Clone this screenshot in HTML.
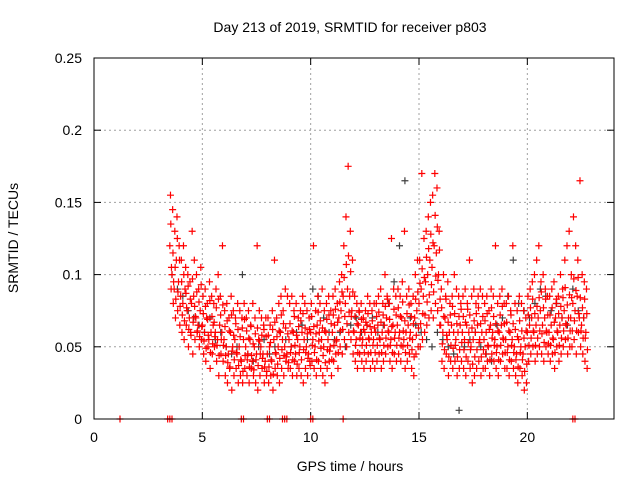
<!DOCTYPE html>
<html><head><meta charset="utf-8"><style>
html,body{margin:0;padding:0;background:#fff;}
svg{display:block;font-family:"Liberation Sans",sans-serif;}
</style></head><body>
<svg id="chart" width="640" height="480" viewBox="0 0 640 480">
<text x="350" y="32" text-anchor="middle" font-size="14">Day 213 of 2019, SRMTID for receiver p803</text>
<text x="18" y="238" text-anchor="middle" font-size="14" transform="rotate(-90 18 238)">SRMTID / TECUs</text>
<text x="350" y="471" text-anchor="middle" font-size="14">GPS time / hours</text>
<g id="grid"></g>
<g id="ticks"></g>
<g id="marks"></g>
<rect x="94" y="58" width="520" height="361" fill="none" stroke="#000" stroke-width="1"/>
</svg>
<script>
const xTicks=[0,5,10,15,20];
const yTicks=[0,0.05,0.1,0.15,0.2,0.25];
const yTickLabels=["0","0.05","0.1","0.15","0.2","0.25"];
const tStart=3.5, tStep=0.1;
const seriesA=[.12,.10,.09,.11,.095,
.085,.08,.09,.075,.07,.08,.085,.07,.065,.075,
.065,.06,.07,.055,.06,.065,.06,.055,.065,.06,
.055,.05,.045,.06,.05,.055,.045,.05,.04,.055,
.05,.045,.055,.04,.05,.045,.055,.05,.045,.04,
.045,.05,.04,.055,.045,.05,.06,.055,.05,.045,
.055,.05,.06,.045,.055,.05,.06,.055,.05,.045,
.06,.055,.05,.065,.06,.055,.05,.06,.055,.05,
.06,.065,.055,.07,.075,.085,.08,.09,.085,.075,
.06,.055,.065,.06,.055,.06,.065,.055,.06,.055,
.06,.065,.055,.06,.065,.07,.06,.055,.065,.06,
.065,.06,.07,.055,.06,.065,.06,.055,.07,.075,
.08,.09,.085,.095,.1,.11,.105,.12,.115,.1,
.065,.06,.07,.055,.06,.065,.06,.055,.06,.065,
.06,.055,.065,.06,.05,.055,.06,.065,.055,.06,
.055,.06,.05,.065,.06,.055,.05,.06,.065,.055,
.055,.05,.06,.055,.05,.045,.055,.05,.045,.05,
.06,.065,.07,.06,.065,.07,.075,.065,.07,.06,
.06,.065,.055,.07,.06,.065,.07,.075,.065,.07,
.07,.08,.075,.085,.07,.065,.07,.06];
const seriesB=[.155,.145,.13,.14,.12,
.11,.12,.105,.1,.095,.13,.11,.1,.09,.105,
.085,.09,.08,.095,.085,.08,.09,.1,.085,.12,
.075,.08,.07,.085,.075,.07,.08,.075,.07,.08,
.07,.075,.065,.08,.07,.12,.075,.07,.065,.07,
.07,.065,.075,.11,.07,.08,.085,.075,.09,.085,
.08,.085,.075,.08,.07,.075,.085,.08,.075,.07,
.08,.12,.075,.085,.08,.09,.075,.08,.085,.075,
.085,.09,.08,.095,.1,.12,.14,.175,.13,.11,
.085,.08,.075,.08,.07,.075,.085,.08,.075,.08,
.08,.085,.09,.08,.1,.085,.08,.125,.09,.085,
.09,.085,.095,.13,.085,.09,.08,.085,.1,.11,
.11,.17,.125,.13,.14,.15,.155,.17,.16,.13,
.09,.1,.085,.095,.08,.085,.1,.09,.085,.08,
.085,.09,.08,.11,.085,.09,.08,.085,.09,.085,
.08,.085,.075,.09,.085,.12,.08,.085,.09,.08,
.08,.085,.075,.12,.08,.075,.085,.08,.075,.07,
.085,.09,.095,.1,.11,.12,.095,.1,.09,.085,
.085,.09,.095,.08,.085,.1,.09,.11,.12,.13,
.1,.14,.12,.11,.165,.1,.095,.09];
const seriesC=[.09,.08,.07,.075,.065,
.06,.055,.065,.05,.06,.045,.055,.06,.05,.055,
.045,.04,.05,.035,.045,.05,.04,.03,.045,.04,
.03,.025,.035,.02,.03,.035,.025,.03,.025,.035,
.03,.025,.035,.03,.025,.02,.03,.035,.025,.03,
.025,.03,.02,.035,.03,.025,.035,.03,.04,.035,
.035,.03,.04,.03,.035,.03,.025,.035,.03,.04,
.04,.035,.03,.04,.035,.03,.025,.035,.04,.03,
.04,.045,.035,.05,.045,.055,.05,.06,.055,.045,
.04,.035,.045,.04,.035,.04,.045,.035,.04,.035,
.04,.045,.035,.04,.045,.05,.04,.035,.045,.04,
.045,.04,.05,.035,.04,.045,.035,.03,.045,.05,
.05,.055,.06,.065,.07,.075,.07,.08,.075,.065,
.04,.035,.045,.03,.04,.035,.04,.03,.035,.04,
.035,.03,.04,.035,.025,.03,.035,.04,.03,.035,
.035,.04,.03,.045,.04,.035,.03,.04,.045,.035,
.035,.03,.04,.035,.03,.025,.035,.03,.02,.025,
.04,.045,.05,.04,.045,.05,.045,.04,.05,.045,
.04,.045,.035,.05,.04,.045,.05,.055,.045,.05,
.05,.055,.045,.06,.05,.045,.04,.035];
const seriesD=[.135,.115,.105,.125,.11,
.095,.1,.087,.092,.083,.097,.078,.088,.081,.093,
.073,.078,.069,.082,.071,.067,.077,.083,.072,.079,
.064,.068,.061,.072,.058,.066,.062,.057,.063,.069,
.061,.056,.064,.052,.059,.063,.054,.058,.062,.057,
.058,.053,.062,.067,.057,.061,.072,.066,.063,.059,
.066,.061,.071,.058,.064,.068,.073,.063,.059,.062,
.071,.064,.059,.074,.068,.063,.061,.069,.072,.066,
.072,.076,.067,.081,.088,.098,.107,.113,.102,.088,
.071,.066,.074,.069,.062,.067,.073,.064,.068,.063,
.071,.074,.067,.072,.078,.083,.069,.064,.076,.072,
.077,.071,.081,.068,.073,.079,.071,.066,.083,.088,
.094,.104,.098,.112,.118,.128,.122,.141,.133,.117,
.077,.071,.083,.067,.072,.078,.073,.066,.071,.076,
.071,.067,.076,.072,.063,.068,.073,.077,.066,.071,
.068,.073,.062,.077,.071,.066,.061,.072,.078,.066,
.067,.061,.072,.066,.062,.057,.068,.061,.056,.061,
.072,.077,.083,.073,.078,.084,.088,.077,.083,.072,
.072,.077,.067,.083,.073,.078,.084,.091,.079,.086,
.084,.097,.089,.098,.084,.077,.083,.073];
const seriesE=[.105,.095,.083,.088,.078,
.072,.068,.077,.062,.058,.067,.071,.061,.057,.064,
.054,.049,.058,.046,.052,.057,.051,.044,.055,.051,
.044,.039,.036,.047,.041,.046,.037,.041,.033,.044,
.041,.036,.044,.034,.041,.037,.045,.042,.036,.033,
.036,.041,.031,.046,.038,.042,.048,.044,.043,.039,
.046,.041,.051,.038,.046,.041,.048,.046,.042,.037,
.051,.046,.041,.054,.049,.044,.039,.048,.047,.041,
.051,.054,.046,.061,.062,.071,.066,.074,.071,.061,
.051,.046,.056,.051,.046,.051,.056,.046,.051,.046,
.051,.056,.046,.051,.056,.061,.051,.046,.056,.051,
.056,.051,.061,.046,.051,.056,.048,.043,.058,.063,
.066,.073,.072,.081,.086,.093,.088,.099,.096,.083,
.052,.048,.058,.043,.051,.049,.051,.043,.048,.053,
.048,.043,.053,.048,.038,.043,.048,.053,.043,.048,
.045,.051,.041,.056,.051,.046,.041,.051,.056,.046,
.046,.041,.051,.046,.041,.036,.046,.041,.033,.038,
.051,.056,.061,.051,.056,.061,.059,.053,.061,.052,
.051,.056,.046,.061,.051,.056,.061,.066,.056,.061,
.061,.068,.061,.073,.061,.056,.056,.048];
const grayStart=3.6, grayStep=0.25;
const seriesGray=[.1,.09,.085,.075,.07,.065,.06,.07,.055,.06,
.05,.045,.05,.1,.045,.04,.05,.055,.045,.05,
.06,.055,.05,.06,.065,.055,.09,.085,.07,.06,
.055,.06,.05,.065,.07,.06,.065,.07,.06,.065,
.08,.095,.12,.165,.07,.065,.06,.055,.05,.06,
.055,.05,.045,.006,.05,.055,.06,.05,.045,.04,
.065,.07,.085,.11,.08,.075,.07,.08,.09,.085,
.075,.08,.07,.065,.09,.075,.07];
const zeroTimes=[1.2,3.4,3.5,3.6,6.8,6.9,8.0,8.1,8.7,8.8,8.9,10.0,10.1,11.5,22.1,22.2];

const X=t=>94+t*(520/24);
const Y=v=>419-v*(361/0.25);
const NS="http://www.w3.org/2000/svg";
const grid=document.getElementById('grid'),ticks=document.getElementById('ticks'),marks=document.getElementById('marks');
function mk(tag,attrs,parent){const e=document.createElementNS(NS,tag);for(const k in attrs)e.setAttribute(k,attrs[k]);parent.appendChild(e);return e;}
xTicks.forEach(t=>{
  const x=X(t);
  if(t>0){const g=mk('line',{x1:x,y1:58,x2:x,y2:419,stroke:'#a0a0a0','stroke-dasharray':'2,3'},grid);
  
  }
  mk('line',{x1:x,y1:419,x2:x,y2:412,stroke:'#000'},ticks);
  mk('line',{x1:x,y1:58,x2:x,y2:65,stroke:'#000'},ticks);
  const l=mk('text',{x:x,y:442,'text-anchor':'middle','font-size':14},ticks);l.textContent=String(t);
  
  
});
yTicks.forEach((v,i)=>{
  const y=Y(v);
  if(i>0&&i<yTicks.length-1){const g=mk('line',{x1:94,y1:y,x2:614,y2:y,stroke:'#a0a0a0','stroke-dasharray':'2,3'},grid);
  
  }
  mk('line',{x1:94,y1:y,x2:101,y2:y,stroke:'#000'},ticks);
  mk('line',{x1:614,y1:y,x2:607,y2:y,stroke:'#000'},ticks);
  const l=mk('text',{x:82,y:y+5,'text-anchor':'end','font-size':14},ticks);l.textContent=yTickLabels[i];
  
  
});
function plus(t,v,col,name){
  const x=X(t),y=Y(v);
  const p=mk('path',{d:`M${x-3.5},${y}h7M${x},${y-3.5}v7`,stroke:col,'stroke-width':1.2,fill:'none'},marks);
  
  
}
seriesGray.forEach((v,i)=>plus(grayStart+i*grayStep,v,'#404040','gray-point'));
[[seriesA,0],[seriesB,0.03],[seriesC,0.06],[seriesD,0.045],[seriesE,0.075]].forEach(([s,off])=>s.forEach((v,i)=>plus(tStart+i*tStep+off,v,'#ff0000','red-point')));
zeroTimes.forEach(t=>plus(t,0,'#ff0000','zero-point'));
</script>
</body></html>
